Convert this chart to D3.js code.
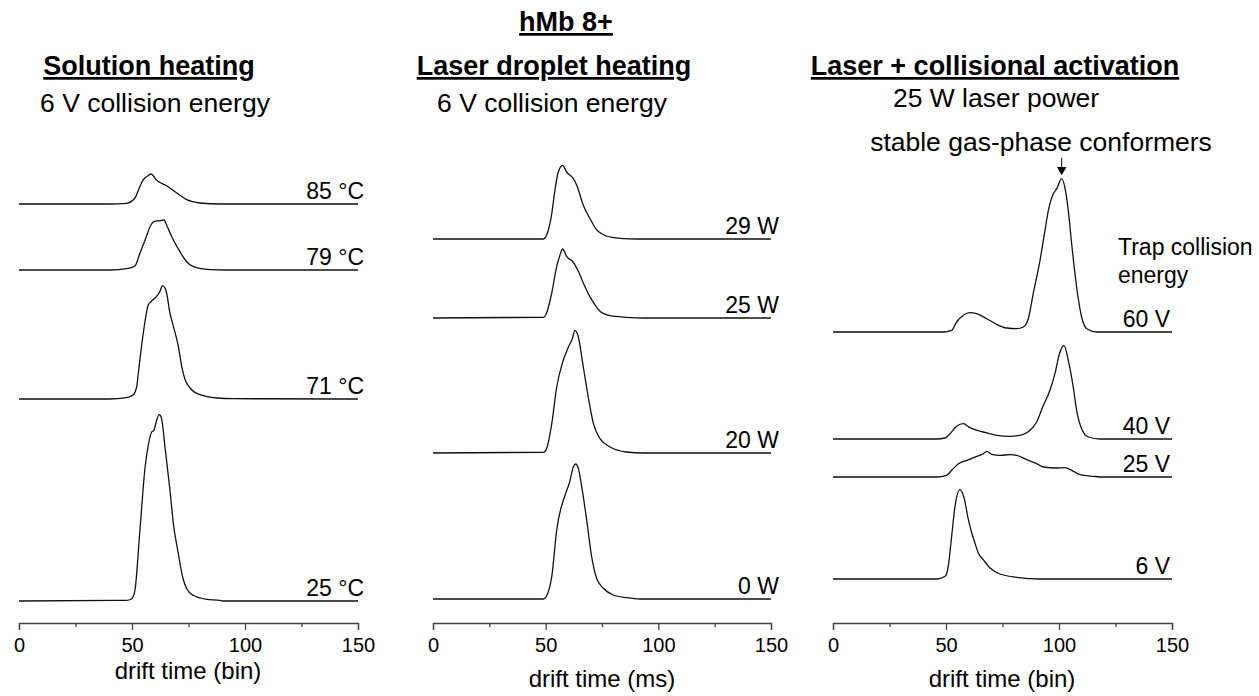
<!DOCTYPE html>
<html>
<head>
<meta charset="utf-8">
<script src="https://cdn.jsdelivr.net/npm/d3@7"></script>
<style>
body { margin: 0; background: #fff; }
text { font-family: "Liberation Sans", Arial, sans-serif; fill: #000; }
</style>
</head>
<body>
<div id="chart"></div>
<script>
// drift time ticks
const xTicks = [0, 50, 100, 150];
const xMinor = [25, 75, 125];

// solution heating, 6 V collision energy  [drift time, intensity]
const solutionLabels = ["85 °C", "79 °C", "71 °C", "25 °C"];
const solutionOffsets = [419, 353, 224, 22];
const solution85 = [[0,0],[40.3,0],[47.6,0.7],[51.3,6],[53.5,17.7],[55.0,24.3],[57.2,28.3],[58.4,30],[60.9,23.7],[65.3,18.3],[69.8,11],[74.2,4.3],[80.1,1],[88.9,0],[150,0]];
const solution79 = [[0,0],[40.3,0],[47.6,1.3],[51.3,4],[53.5,16.7],[55.8,30],[58.0,43.3],[59.7,48.3],[62.4,49.3],[64.2,50],[65.3,45],[67.6,33.3],[71.2,18.3],[74.2,8.3],[77.1,3.3],[83.0,0.7],[91.9,0],[150,0]];
const solution71 = [[0,0],[40,0],[47.6,1.3],[50.6,4.3],[52.1,12.7],[52.8,26],[55.0,66],[57.2,94],[58.7,98],[60.9,102.7],[62.4,107.7],[63.4,113.3],[64.6,111],[65.3,106],[66.8,86],[68.3,72.7],[70.5,52.7],[72.0,32.7],[73.5,19.3],[75.7,11],[80.1,4.3],[87.5,1],[94.8,0.3],[150,0]];
const solution25 = [[0,0],[43.2,0.7],[47.6,0.7],[49.9,2.3],[51.3,10.7],[53.5,70.7],[55.8,134],[57.2,155.7],[58.7,169],[59.7,170.7],[60.9,180.7],[62.1,186.3],[63.1,182.3],[64.6,154],[66.8,110.7],[68.3,77.3],[70.5,47.3],[72.4,24],[74.2,12.3],[77.1,5.7],[83.0,1.7],[88.9,0.7],[90,0],[150,0]];

// laser droplet heating, 6 V collision energy
const laserLabels = ["29 W", "25 W", "20 W", "0 W"];
const laserOffsets = [384, 305, 170, 24];
const laser29 = [[0,0],[49.0,0],[50.4,3.7],[52.7,25.3],[54.1,48.7],[55.6,67],[57.5,73.7],[59.3,67],[62.3,60.3],[63.8,53.7],[66.7,33.7],[69.7,20.3],[72.6,9.3],[77.1,3],[83.0,0.7],[90.4,0],[150,0]];
const laser25 = [[0,0],[49.0,0.7],[50.4,5],[52.7,25],[54.9,51.7],[56.4,63.3],[57.5,69],[59.3,61.7],[62.3,55.7],[64.5,46.7],[66.7,35],[70.4,18.3],[74.1,6.7],[78.6,2.3],[85.9,0.7],[93.3,0],[150,0]];
const laser20 = [[0,0],[49.0,0.7],[50.4,4.3],[52.7,29.3],[54.9,66],[57.8,92.7],[60.1,106],[61.8,114.3],[63.0,122.7],[64.5,116],[66.7,86],[68.9,56],[71.2,29.3],[74.1,14.3],[78.6,6],[85.9,1],[93.3,0],[150,0]];
const laser0 = [[0,0],[49.0,0],[50.4,3],[52.7,22.3],[54.9,69],[58.6,104],[60.5,115.7],[62.3,132.3],[63.3,135],[64.5,130.7],[66.0,112.3],[68.2,79],[70.4,42.3],[72.6,20.7],[75.6,10.7],[80.0,4],[85.9,1.3],[91.9,0],[150,0]];

// laser + collisional activation, 25 W laser power
const collisionLabels = ["60 V", "40 V", "25 V", "6 V"];
const collisionOffsets = [291, 184, 146, 44];
const collision60 = [[0,0],[48.8,0],[52.5,1.7],[54.7,10],[57.7,16.7],[60.6,19.3],[63.6,18.3],[68.0,13.3],[72.4,7.7],[76.8,4],[81.3,3.3],[84.2,5],[86.4,13.3],[88.6,38.3],[91.6,71.7],[93.8,101.7],[95.3,121.7],[97.5,138.3],[99.0,143.3],[101.2,153.3],[102.7,143.3],[104.1,121.7],[105.6,88.3],[107.8,45],[110.0,15],[112.3,3.3],[116.7,0],[150,0]];
const collision40 = [[0,0],[45.9,0],[49.6,1],[51.8,5.3],[54.7,12.7],[57.7,15.3],[60.6,11.3],[66.5,7],[72.4,3.7],[78.3,2.7],[84.2,4.7],[87.2,8.7],[90.1,17],[93.1,33.7],[96.0,48.7],[98.2,65.3],[100.2,85.3],[102.2,93.7],[104.1,78.7],[106.3,52],[107.8,28.7],[110.0,10.3],[113.0,2],[118.1,0],[150,0]];
const collision25 = [[0,0],[45.9,0],[50.3,1.7],[52.5,6.7],[55.5,13.3],[59.2,16.7],[63.6,20.7],[66.5,23.3],[68.0,25.7],[70.2,22.7],[73.9,21.7],[78.3,22.3],[81.3,21.7],[85.7,17.3],[90.1,13.3],[93.1,10],[99.0,9],[102.7,9.3],[105.6,6.7],[109.3,2.3],[115.2,0.7],[119.6,0],[150,0]];
const collision6 = [[0,0],[45.9,0],[49.6,2.7],[51.0,12.7],[52.5,42.7],[54.0,72.7],[56.2,89.3],[58.0,81],[59.9,59.3],[61.4,46],[62.8,36],[64.3,26],[66.5,19.3],[69.5,11],[73.9,5],[81.3,1.7],[91.6,0],[150,0]];

var width = 1259;
var height = 696;
var svg = d3
	.select("#chart")
	.append("svg")
	.attr("width", width)
	.attr("height", height);

var y = d3.scaleLinear().domain([0, 500]).range([623, 123]);

var panels = [
	{ x0: 19, x1: 358, title: "Solution heating", tx: 149, sub: "6 V collision energy", sx: 155, subY: 112,
	  traces: [solution85, solution79, solution71, solution25], labels: solutionLabels, offsets: solutionOffsets,
	  labelX: 364, xlabel: "drift time (bin)", xlabelX: 188, xlabelY: 679 },
	{ x0: 433, x1: 771, title: "Laser droplet heating", tx: 554, sub: "6 V collision energy", sx: 552, subY: 112,
	  traces: [laser29, laser25, laser20, laser0], labels: laserLabels, offsets: laserOffsets,
	  labelX: 779, xlabel: "drift time (ms)", xlabelX: 602, xlabelY: 687 },
	{ x0: 833, x1: 1172, title: "Laser + collisional activation", tx: 995, sub: "25 W laser power", sx: 996, subY: 107,
	  traces: [collision60, collision40, collision25, collision6], labels: collisionLabels, offsets: collisionOffsets,
	  labelX: 1170, xlabel: "drift time (bin)", xlabelX: 1002, xlabelY: 687 },
];

// main title
svg.append("text")
	.attr("x", 566).attr("y", 31)
	.attr("text-anchor", "middle")
	.style("font-size", "27px").style("font-weight", "bold")
	.style("text-decoration", "underline")
	.text("hMb 8+");

panels.forEach(function (p) {
	var x = d3.scaleLinear().domain([0, 150]).range([p.x0, p.x1]);
	var g = svg.append("g");

	g.append("text")
		.attr("x", p.tx).attr("y", 75)
		.attr("text-anchor", "middle")
		.style("font-size", "27px").style("font-weight", "bold")
		.style("text-decoration", "underline")
		.text(p.title);
	g.append("text")
		.attr("x", p.sx).attr("y", p.subY)
		.attr("text-anchor", "middle")
		.style("font-size", "26.5px")
		.text(p.sub);

	// stacked traces
	g.selectAll("path.trace")
		.data(p.traces)
		.join("path")
		.attr("class", "trace")
		.attr("fill", "none")
		.attr("stroke", "#111")
		.attr("stroke-width", 1.3)
		.attr("d", function (d, i) {
			return d3.line()
				.x((v) => x(v[0]))
				.y((v) => y(v[1] + p.offsets[i]))
				.curve(d3.curveMonotoneX)(d);
		});

	g.selectAll("text.lab")
		.data(p.labels)
		.join("text")
		.attr("class", "lab")
		.attr("x", p.labelX)
		.attr("y", (d, i) => y(p.offsets[i]) - 5)
		.attr("text-anchor", "end")
		.style("font-size", "23px")
		.text((d) => d);

	// x axis, ticks pointing down
	var ax = g.append("g")
		.attr("transform", "translate(0,623)")
		.call(d3.axisBottom(x).tickValues(xTicks).tickSize(7).tickSizeOuter(7).tickPadding(8));
	ax.selectAll("path, line").attr("stroke", "#444").attr("stroke-width", 1.3);
	ax.selectAll("text").style("font-size", "20px").attr("fill", "#000")
		.style("font-family", "'Liberation Sans', Arial, sans-serif");

	var mn = g.append("g")
		.attr("transform", "translate(0,623)")
		.call(d3.axisBottom(x).tickValues(xMinor).tickSize(4).tickFormat(""));
	mn.select(".domain").remove();
	mn.selectAll("line").attr("stroke", "#444").attr("stroke-width", 1.3);

	g.append("text")
		.attr("x", p.xlabelX).attr("y", p.xlabelY)
		.attr("text-anchor", "middle")
		.style("font-size", "24px")
		.text(p.xlabel);

	p.x = x;
});

// annotations on the collisional activation panel
var x3 = panels[2].x;
var peak = collision60.reduce((a, b) => (b[1] > a[1] ? b : a));
var tipY = y(peak[1] + collisionOffsets[0]) - 5;
svg.append("line")
	.attr("x1", x3(peak[0])).attr("x2", x3(peak[0]))
	.attr("y1", tipY - 16).attr("y2", tipY - 6)
	.attr("stroke", "#000").attr("stroke-width", 1);
svg.append("path")
	.attr("d", d3.symbol().type(d3.symbolTriangle).size(40))
	.attr("transform", "translate(" + x3(peak[0]) + "," + (tipY - 4) + ") rotate(180)")
	.attr("fill", "#000");
svg.append("text")
	.attr("x", 1041).attr("y", 151)
	.attr("text-anchor", "middle")
	.style("font-size", "26.5px")
	.text("stable gas-phase conformers");
svg.append("text")
	.attr("x", 1118).attr("y", 255)
	.style("font-size", "23px")
	.text("Trap collision");
svg.append("text")
	.attr("x", 1118).attr("y", 283)
	.style("font-size", "23px")
	.text("energy");
</script>
</body>
</html>
